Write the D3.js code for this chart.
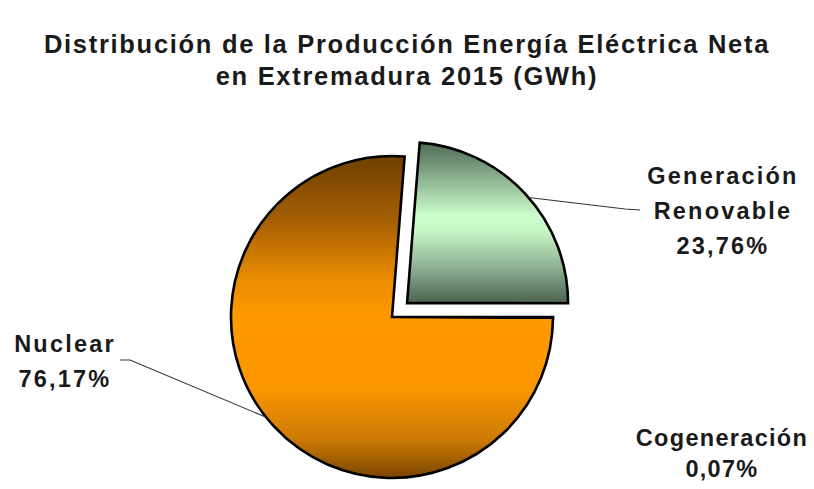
<!DOCTYPE html>
<html>
<head>
<meta charset="utf-8">
<script src="https://cdn.jsdelivr.net/npm/d3@7"></script>
<style>
  html, body { margin: 0; padding: 0; background: #fff; }
  svg { display: block; }
  text { font-family: "Liberation Sans", Arial, sans-serif; font-weight: bold; fill: #1a1a1a; }
</style>
</head>
<body>
<svg id="chart" width="814" height="489"></svg>
<script>
// ---- Data ----
const titleLines = ["Distribución de la Producción Energía Eléctrica Neta", "en Extremadura 2015 (GWh)"];
const categories = ["Generación Renovable", "Cogeneración", "Nuclear"];
const values = [23.76, 0.07, 76.17];
const labelLines = [["Generación", "Renovable", "23,76%"], ["Cogeneración", "0,07%"], ["Nuclear", "76,17%"]];
const exploded = [true, false, false];

// ---- Layout ----
const W = 814, H = 489;
const cx = 392, cy = 317, R = 161, explodeDist = 20.5;
const firstSliceAngle = 4.5 * Math.PI / 180;

const svg = d3.select("#chart");
const defs = svg.append("defs");

// gradients
const gradDefs = [
  { id: "g-ren", stops: [[0, "#4f6b55"], [0.2, "#86aa8a"], [0.45, "#cbfccb"], [0.55, "#c6f7c6"], [0.8, "#88a88c"], [1, "#4a6250"]] },
  { id: "g-cog", stops: [[0, "#c9c9c9"], [0.5, "#ffffff"], [1, "#c9c9c9"]] },
  { id: "g-nuc", stops: [[0, "#6e4000"], [0.2, "#a65f05"], [0.38, "#e88c00"], [0.5, "#ff9900"], [0.72, "#fb9600"], [0.88, "#cc7a05"], [1, "#7a4500"]] }
];
gradDefs.forEach(g => {
  const lg = defs.append("linearGradient").attr("id", g.id)
    .attr("x1", 0).attr("y1", 0).attr("x2", 0).attr("y2", 1);
  g.stops.forEach(s => lg.append("stop").attr("offset", s[0]).attr("stop-color", s[1]));
});
const fills = ["url(#g-ren)", "url(#g-cog)", "url(#g-nuc)"];

// title
svg.append("g").selectAll("text").data(titleLines).join("text")
  .attr("x", 407)
  .attr("y", (d, i) => 53 + i * 32)
  .attr("text-anchor", "middle")
  .attr("font-size", 25.5)
  .attr("letter-spacing", 1.7)
  .text(d => d);

// pie
const pie = d3.pie().sort(null).value(d => d)
  .startAngle(firstSliceAngle).endAngle(firstSliceAngle + 2 * Math.PI);
const arcs = pie(values);
const arc = d3.arc().innerRadius(0).outerRadius(R);

const g = svg.append("g").attr("transform", `translate(${cx},${cy})`);
function offset(d, i) {
  if (!exploded[i]) return [0, 0];
  const mid = (d.startAngle + d.endAngle) / 2;
  return [Math.sin(mid) * explodeDist, -Math.cos(mid) * explodeDist];
}
g.selectAll("path.slice").data(arcs).join("path")
  .attr("class", "slice")
  .attr("transform", (d, i) => { const o = offset(d, i); return `translate(${o[0]},${o[1]})`; })
  .attr("d", arc)
  .attr("fill", (d, i) => fills[i])
  .attr("stroke", "#000")
  .attr("stroke-width", 2.6)
  .attr("stroke-linejoin", "miter");

// leader lines
function edgePoint(i, deg) {
  const o = offset(arcs[i], i);
  const a = deg * Math.PI / 180;
  return [cx + o[0] + Math.sin(a) * R, cy + o[1] - Math.cos(a) * R];
}
const leaders = [
  [edgePoint(0, 49), [625, 209], [640, 210]],
  [edgePoint(2, 231.5), [130, 360], [120, 360]]
];
svg.append("g").selectAll("path").data(leaders).join("path")
  .attr("d", d => d3.line()(d))
  .attr("fill", "none")
  .attr("stroke", "#333")
  .attr("stroke-width", 1.1);

// labels
const labelPos = [
  { x: 723, y: 184 },
  { x: 722, y: 446 },
  { x: 65, y: 352 }
];
const lineGap = [35, 31, 35];
const labelSpacing = [2.2, 1.3, 2.2];
labelLines.forEach((lines, i) => {
  svg.append("text")
    .attr("text-anchor", "middle")
    .attr("font-size", 23.5)
    .attr("letter-spacing", labelSpacing[i])
    .selectAll("tspan").data(lines).join("tspan")
    .attr("x", labelPos[i].x)
    .attr("y", (d, j) => labelPos[i].y + j * lineGap[i])
    .text(d => d);
});
</script>
</body>
</html>
